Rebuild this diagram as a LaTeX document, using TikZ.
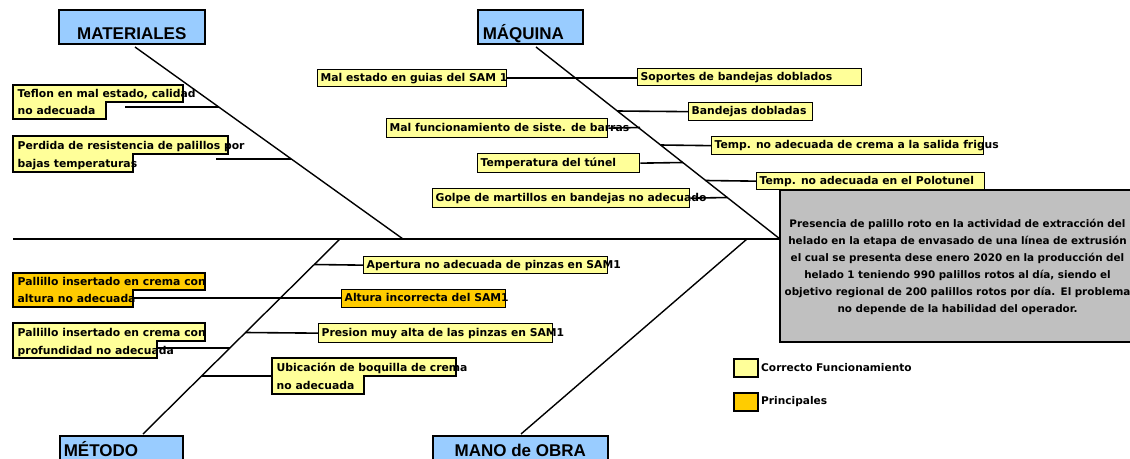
\documentclass[tikz,border=0pt]{standalone}
\usepackage{fontspec}
\setmainfont{DejaVu Sans}
\newfontfamily\arialf{Liberation Sans}
\usetikzlibrary{calc}
\pgfdeclarelayer{bg}
\pgfsetlayers{bg,main}
\definecolor{tblue}{HTML}{99CCFF}
\definecolor{ylw}{HTML}{FFFF99}
\definecolor{org}{HTML}{FFCC00}
\definecolor{gry}{HTML}{C0C0C0}
\newcommand{\ibx}[2]{\makebox[#1][l]{#2}}
\tikzset{
  itm/.style={draw=black, line width=1.3pt, rectangle, inner xsep=3pt, inner ysep=0pt,
    font=\bfseries\fontsize{10.8}{12}\selectfont,
    text height=7.9pt, text depth=2.2pt, anchor=north west},
  lbox/.style={draw=black, line width=1.3pt},
  ltxt/.style={anchor=base west, inner sep=0pt, font=\bfseries\fontsize{10.8}{12}\selectfont},
  ttl/.style={draw=black, line width=1.6pt, fill=tblue, inner ysep=0pt, anchor=north west,
    font=\arialf\bfseries\fontsize{17}{20}\selectfont},
  ln/.style={line width=1.6pt},
  diag/.style={line width=1.4pt},
  spine/.style={line width=2pt},
  lgbox/.style={draw=black, line width=1.5pt, minimum width=24pt, minimum height=18pt,
    anchor=north west, inner sep=0pt},
  lgtxt/.style={anchor=west, inner sep=0pt, font=\bfseries\fontsize{10.6}{12}\selectfont}
}
\begin{document}
\begin{tikzpicture}[x=1pt,y=-1pt]
\useasboundingbox (0,0) rectangle (1130,458);
\clip (0,0) rectangle (1130,458);

% ---------- title boxes ----------
\node[ttl, minimum width=146pt, text height=30pt, text depth=4pt] (mat) at (58,9) {MATERIALES};
\node[ttl, inner xsep=5pt, text height=30pt, text depth=4pt] (maq) at (477,9) {\makebox[95pt][l]{MÁQUINA}};
\node[ttl, inner xsep=4pt, text height=20.5pt, text depth=19.5pt] (met) at (59,435) {\makebox[115pt][l]{MÉTODO}};
\node[ttl, minimum width=175pt, text height=20.5pt, text depth=19.5pt] (mano) at (432,435) {MANO de OBRA};

% ---------- problem box ----------
\node[draw=black, line width=1.6pt, fill=gry, anchor=north west, minimum width=357pt,
      minimum height=152pt, inner sep=0pt] (probbox) at (779,189) {};
\node[inner sep=0pt, text width=380pt, align=center,
      font=\bfseries\fontsize{10.4}{17}\selectfont] (prob) at (957.5,267)
 {Presencia de palillo roto en la actividad de extracción del\\
  helado en la etapa de envasado de una línea de extrusión\\
  el cual se presenta dese enero 2020 en la producción del\\
  helado 1 teniendo 990 palillos rotos al día, siendo el\\
  objetivo regional de 200 palillos rotos por día. El problema\\
  no depende de la habilidad del operador.};

% ---------- coordinates of bones ----------
\coordinate (spineL) at (13,239);
\coordinate (matA) at (135,47);
\coordinate (matB) at (403,239);
\coordinate (maqA) at (536,47);
\coordinate (maqB) at (780,239);
\coordinate (metA) at (340,239);
\coordinate (metB) at (143,434);
\coordinate (manA) at (747,239);
\coordinate (manB) at (521,434);

% points on the bones
\coordinate (mat1) at (218.75,107);
\coordinate (mat2) at (291.3,159);
\coordinate (mq1) at (617.3,111);
\coordinate (mq2) at (640,127.5);
\coordinate (mq3) at (660.5,145);
\coordinate (mq4) at (682.8,162.5);
\coordinate (mq5) at (705.7,180.5);
\coordinate (mq6) at (727.3,197.5);
\coordinate (me1) at (314.2,264.5);
\coordinate (me2) at (245.5,332.5);
\coordinate (me3) at (229.9,348);
\coordinate (me4) at (201.6,376);

% ---------- MATERIALES causes ----------
\filldraw[lbox, fill=ylw] (13,85) -- (183,85) -- (183,102) -- (106,102) -- (106,119) -- (13,119) -- cycle;
\node[ltxt] (tef1) at (17.5,97.4) {Teflon en mal estado, calidad};
\node[ltxt] (tef2) at (17.5,114.8) {no adecuada};
\coordinate (tefC) at (125,107);

\filldraw[lbox, fill=ylw] (13,136) -- (228,136) -- (228,154) -- (133,154) -- (133,172) -- (13,172) -- cycle;
\node[ltxt] (per1) at (17.5,149.5) {Perdida de resistencia de palillos por};
\node[ltxt] (per2) at (17.5,167.3) {bajas temperaturas};
\coordinate (perC) at (216,159);

% ---------- MAQUINA causes ----------
\node[itm, fill=ylw, minimum height=17pt] (guias) at (317,69) {\ibx{183pt}{Mal estado en guias del SAM 1}};
\node[itm, fill=ylw, minimum height=17pt] (sopor) at (637,68) {\ibx{218pt}{Soportes de bandejas doblados}};
\node[itm, fill=ylw, minimum height=18pt] (bandej) at (688,102) {\ibx{118pt}{Bandejas dobladas}};
\node[itm, fill=ylw, minimum height=19pt] (malfun) at (386,118) {\ibx{215pt}{Mal funcionamiento de siste. de barras}};
\node[itm, fill=ylw, minimum height=18pt] (frigus) at (711,136) {\ibx{266pt}{Temp. no adecuada de crema a la salida frigus}};
\node[itm, fill=ylw, minimum height=19pt] (tunel) at (477,153) {\ibx{156pt}{Temperatura del túnel}};
\node[itm, fill=ylw, minimum height=17pt] (polo) at (756,172) {\ibx{222pt}{Temp. no adecuada en el Polotunel}};
\node[itm, fill=ylw, minimum height=19pt] (golpe) at (432,188) {\ibx{251pt}{Golpe de martillos en bandejas no adecuado}};

% ---------- METODO causes ----------
\node[itm, fill=ylw, minimum height=17pt] (apert) at (363,256) {\ibx{238pt}{Apertura no adecuada de pinzas en SAM1}};
\node[itm, fill=org, minimum height=18pt] (altura) at (341,289) {\ibx{158pt}{Altura incorrecta del SAM1}};
\node[itm, fill=ylw, minimum height=19pt] (presion) at (318,323) {\ibx{228pt}{Presion muy alta de las pinzas en SAM1}};

\filldraw[lbox, fill=org] (13,273) -- (205,273) -- (205,290) -- (133,290) -- (133,307) -- (13,307) -- cycle;
\node[ltxt] (alt1) at (17.5,285.5) {Pallillo insertado en crema con};
\node[ltxt] (alt2) at (17.5,302.5) {altura no adecuada};
\coordinate (altC) at (133,298);

\filldraw[lbox, fill=ylw] (13,323) -- (205,323) -- (205,341) -- (157,341) -- (157,358) -- (13,358) -- cycle;
\node[ltxt] (prof1) at (17.5,336.8) {Pallillo insertado en crema con};
\node[ltxt] (prof2) at (17.5,354) {profundidad no adecuada};
\coordinate (profC) at (157,348);

\filldraw[lbox, fill=ylw] (272,358) -- (456,358) -- (456,376) -- (364,376) -- (364,394) -- (272,394) -- cycle;
\node[ltxt] (ubi1) at (276.5,371.8) {Ubicación de boquilla de crema};
\node[ltxt] (ubi2) at (276.5,389) {no adecuada};
\coordinate (ubiC) at (272,376);

% ---------- legend ----------
\node[lgbox, fill=ylw] (lg1) at (733,358) {};
\node[lgtxt] (lg1t) at (761,367.5) {Correcto Funcionamiento};
\node[lgbox, fill=org] (lg2) at (733,392) {};
\node[lgtxt] (lg2t) at (761,402) {Principales};

% ---------- lines ----------
\begin{pgfonlayer}{bg}
\draw[spine] (spineL) -- (spineL -| probbox.west);
\draw[diag] (matA) -- (matB);
\draw[diag] (maqA) -- (maqB);
\draw[diag] (metA) -- (metB);
\draw[diag] (manA) -- (manB);

\draw[ln] (tefC) -- (mat1);
\draw[ln] (perC) -- (mat2);

\draw[ln] (guias.east) -- (guias.east -| sopor.west);
\draw[ln] (mq1) -- (bandej.west);
\draw[ln] (malfun.east) -- (mq2);
\draw[ln] (mq3) -- (frigus.west);
\draw[ln] (tunel.east) -- (mq4);
\draw[ln] (mq5) -- (polo.west);
\draw[ln] (golpe.east) -- (mq6);

\draw[ln] (me1) -- (apert.west);
\draw[ln] (altC) -- (altC -| altura.west);
\draw[ln] (me2) -- (presion.west);
\draw[ln] (profC) -- (me3);
\draw[ln] (me4) -- (ubiC);
\end{pgfonlayer}
\end{tikzpicture}
\end{document}
